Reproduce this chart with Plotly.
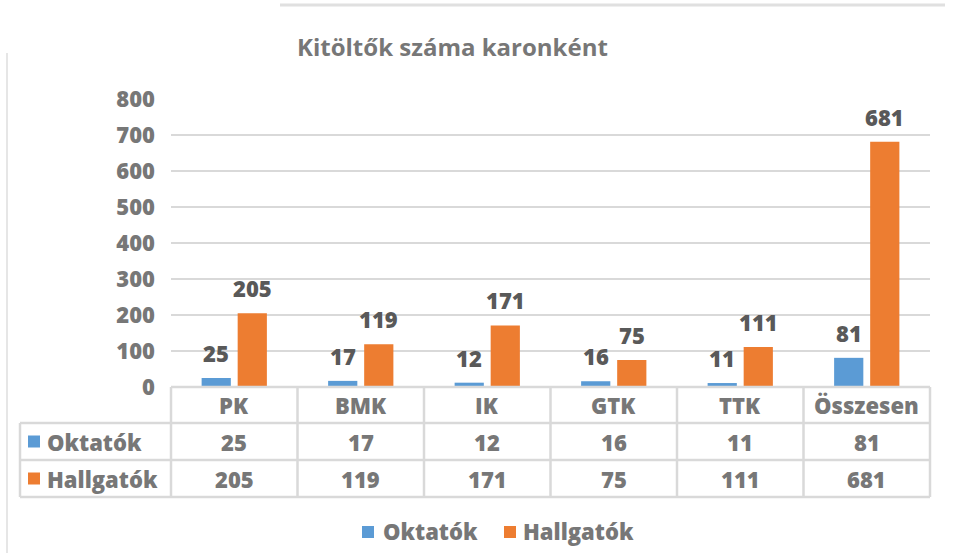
import plotly.graph_objects as go

categories = ["PK", "BMK", "IK", "GTK", "TTK", "Összesen"]
series_names = ["Oktatók", "Hallgatók"]
oktatok = [25, 17, 12, 16, 11, 81]
hallgatok = [205, 119, 171, 75, 111, 681]
y_ticks = [0, 100, 200, 300, 400, 500, 600, 700, 800]
title_text = "Kitöltők száma karonként"

BLUE = "#5B9BD5"
ORANGE = "#ED7D31"
GRAY_TXT = "#777777"
LABEL_TXT = "#595959"
LINE = "#D9D9D9"
FONT = "Open Sans"
FS = 22
WT = 800

W, H = 955, 553
L, R, T, B = 171, 25, 99, 166
PW = W - L - R
PH = H - T - B


def px_x(px):
    return (px - L) / PW


def px_y(py):
    return (H - B - py) / PH


fig = go.Figure()
series = [oktatok, hallgatok]
colors = [BLUE, ORANGE]
for name, vals, col in zip(series_names, series, colors):
    fig.add_trace(go.Bar(x=categories, y=vals, name=name, marker_color=col,
                         marker_line_width=0, showlegend=False))

annotations = []
shapes = []

# data labels
for i, (vals, sh) in enumerate(zip(series, [-18, 18])):
    for c, v in zip(categories, vals):
        annotations.append(dict(x=c, y=v, xref="x", yref="y", text=str(v),
                                showarrow=False, xshift=sh, yshift=25,
                                yanchor="middle",
                                font=dict(family=FONT, size=FS, color=LABEL_TXT, weight=WT)))

# title
annotations.append(dict(x=px_x(452), y=px_y(47), xref="paper", yref="paper",
                        text=title_text, showarrow=False, xanchor="center", yanchor="middle",
                        font=dict(family=FONT, size=24, color=GRAY_TXT, weight=700)))

# data table
row_tops = [387, 423, 460, 497]
n = len(categories)
col_w = PW / n
for i, c in enumerate(categories):
    annotations.append(dict(x=c, y=px_y((row_tops[0] + row_tops[1]) / 2), xref="x", yref="paper",
                            text=c, showarrow=False, yanchor="middle",
                            font=dict(family=FONT, size=FS, color=GRAY_TXT, weight=WT)))
for r, (name, vals, col) in enumerate(zip(series_names, series, colors)):
    yc = (row_tops[r + 1] + row_tops[r + 2]) / 2
    for c, v in zip(categories, vals):
        annotations.append(dict(x=c, y=px_y(yc), xref="x", yref="paper", text=str(v),
                                showarrow=False, yanchor="middle",
                                font=dict(family=FONT, size=FS, color=GRAY_TXT, weight=WT)))
    annotations.append(dict(x=px_x(45), y=px_y(yc), xref="paper", yref="paper", text=name,
                            showarrow=False, xanchor="left", yanchor="middle",
                            font=dict(family=FONT, size=FS, color=GRAY_TXT, weight=WT)))
    shapes.append(dict(type="rect", xref="paper", yref="paper",
                       x0=px_x(28), x1=px_x(40), y0=px_y(yc - 6), y1=px_y(yc + 6),
                       fillcolor=col, line_width=0))

# table lines
for k, py in enumerate(row_tops):
    x0 = L if k == 0 else 20
    shapes.append(dict(type="line", xref="paper", yref="paper", x0=px_x(x0), x1=1,
                       y0=px_y(py), y1=px_y(py), line=dict(color=LINE, width=2.5)))
for j in range(n + 1):
    px = L + j * col_w
    shapes.append(dict(type="line", xref="paper", yref="paper", x0=px_x(px), x1=px_x(px),
                       y0=px_y(387), y1=px_y(497), line=dict(color=LINE, width=2.5)))
shapes.append(dict(type="line", xref="paper", yref="paper", x0=px_x(20), x1=px_x(20),
                   y0=px_y(423), y1=px_y(497), line=dict(color=LINE, width=2.5)))

# legend (manual)
leg_items = [(362, 381), (504, 521)]
for (mx, tx), name, col in zip(leg_items, series_names, colors):
    shapes.append(dict(type="rect", xref="paper", yref="paper",
                       x0=px_x(mx), x1=px_x(mx + 12), y0=px_y(526), y1=px_y(538),
                       fillcolor=col, line_width=0))
    annotations.append(dict(x=px_x(tx), y=px_y(531), xref="paper", yref="paper", text=name,
                            showarrow=False, xanchor="left", yanchor="middle",
                            font=dict(family=FONT, size=FS, color=GRAY_TXT, weight=WT)))

# decorative frame lines
shapes.append(dict(type="line", xref="paper", yref="paper", x0=px_x(280), x1=px_x(945),
                   y0=px_y(5), y1=px_y(5), line=dict(color="#E0E0E0", width=3)))
shapes.append(dict(type="line", xref="paper", yref="paper", x0=px_x(7), x1=px_x(7),
                   y0=px_y(53), y1=px_y(553), line=dict(color="#E6E6E6", width=2)))

fig.update_layout(
    width=W, height=H,
    margin=dict(l=L, r=R, t=T, b=B, pad=0),
    paper_bgcolor="white", plot_bgcolor="white",
    bargap=0.43, bargroupgap=0.19, barmode="group",
    annotations=annotations, shapes=shapes,
    showlegend=False,
    xaxis=dict(showticklabels=False, showgrid=False, zeroline=False, showline=False,
               range=[-0.5, n - 0.5], fixedrange=True),
    yaxis=dict(range=[0, 800], tickvals=y_ticks, showgrid=True, gridcolor=LINE, gridwidth=2,
               zeroline=False, showline=False, ticks="", ticklabelstandoff=15,
               tickfont=dict(family=FONT, size=FS, color=GRAY_TXT, weight=WT), fixedrange=True),
)

fig.write_html("out.html", config={"displayModeBar": False},
               post_script="document.body.style.margin='0';document.body.style.overflow='hidden';")
